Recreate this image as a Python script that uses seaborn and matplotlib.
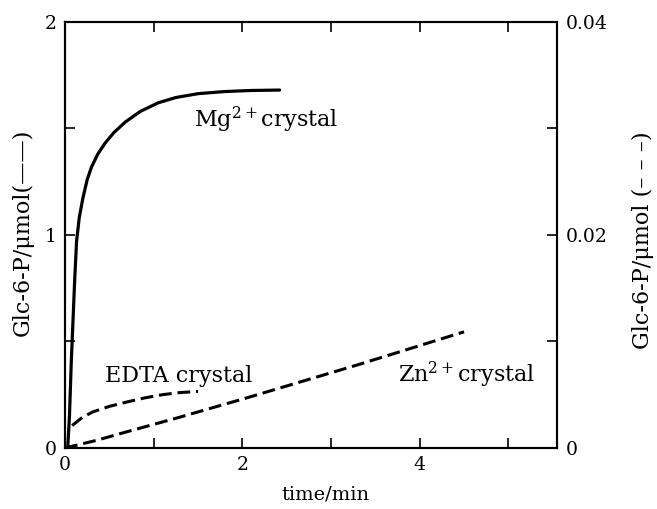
import numpy as np
import pandas as pd
import seaborn as sns
import matplotlib.pyplot as plt
from matplotlib.ticker import MultipleLocator

# Mg2+ crystal (left axis, umol)
mg_time = [0.03, 0.05, 0.07, 0.09, 0.11, 0.13, 0.16, 0.2, 0.25, 0.3, 0.37, 0.45,
           0.55, 0.68, 0.85, 1.05, 1.25, 1.5, 1.8, 2.1, 2.42]
mg_glc = [0.0, 0.15, 0.4, 0.6, 0.8, 0.97, 1.08, 1.17, 1.26, 1.32, 1.38, 1.43,
          1.48, 1.53, 1.58, 1.62, 1.645, 1.663, 1.673, 1.678, 1.68]

# EDTA crystal (right axis, umol)
edta_time = [0.08, 0.2, 0.32, 0.5, 0.69, 0.9, 1.1, 1.3, 1.5]
edta_glc = [0.0021, 0.0029, 0.0034, 0.0039, 0.0043, 0.0047, 0.0050, 0.0052, 0.0053]

# Zn2+ crystal (right axis, umol)
zn_time = [0.0, 0.35, 0.69, 1.3, 2.05, 3.3, 4.5]
zn_glc = [0.0, 0.0007, 0.0015, 0.0029, 0.0047, 0.0078, 0.0109]

sns.set_style("ticks")
plt.rcParams['font.family'] = ['DejaVu Serif']
plt.rcParams['mathtext.fontset'] = 'dejavuserif'
plt.rcParams['axes.edgecolor'] = 'black'
plt.rcParams['text.color'] = 'black'
plt.rcParams['axes.labelcolor'] = 'black'
plt.rcParams['xtick.color'] = 'black'
plt.rcParams['ytick.color'] = 'black'

fig = plt.figure(figsize=(6.57, 5.09), dpi=100)
ax = fig.add_axes([0.099, 0.120, 0.749, 0.837])
ax2 = ax.twinx()

mg = pd.DataFrame({'time': mg_time, 'glc': mg_glc})
edta = pd.DataFrame({'time': edta_time, 'glc': edta_glc})
zn = pd.DataFrame({'time': zn_time, 'glc': zn_glc})

dash = (0, (4.2, 1.9))
sns.lineplot(data=mg, x='time', y='glc', ax=ax, color='black', lw=2.3, sort=False)
sns.lineplot(data=edta, x='time', y='glc', ax=ax2, color='black', lw=2.2,
             linestyle=dash, sort=False)
sns.lineplot(data=zn, x='time', y='glc', ax=ax2, color='black', lw=2.2,
             linestyle=dash, sort=False)

ax.set_xlim(0, 5.55)
ax.set_ylim(0, 2)
ax2.set_ylim(0, 0.04)

ax.set_xticks([0, 2, 4], labels=['0', '2', '4'])
ax.xaxis.set_minor_locator(MultipleLocator(1))
ax.set_yticks([0, 1, 2], labels=['0', '1', '2'])
ax.yaxis.set_minor_locator(MultipleLocator(0.5))
ax2.set_yticks([0, 0.02, 0.04], labels=['0', '0.02', '0.04'])
ax2.yaxis.set_minor_locator(MultipleLocator(0.01))

for a in (ax, ax2):
    for s in a.spines.values():
        s.set_linewidth(1.5)
        s.set_visible(True)
    a.tick_params(which='both', direction='in', labelsize=13.5, width=1.2,
                  length=7, pad=6)
ax.tick_params(which='both', top=True, right=False)
ax2.tick_params(which='both', left=False, right=True)

ax.set_xlabel('time/min', fontsize=14)
ax.xaxis.set_label_coords(0.53, -0.088)
ax.set_ylabel('Glc-6-P/μmol(——)', fontsize=16)
ax.yaxis.set_label_coords(-0.064, 0.506)
ax2.set_ylabel('Glc-6-P/μmol (– – –)', fontsize=16)
ax2.yaxis.set_label_coords(1.152, 0.487)

ax.text(1.46, 1.507, r'Mg$^{2+}$crystal', fontsize=16)
ax.text(0.45, 0.31, 'EDTA crystal', fontsize=16)
ax.text(3.75, 0.31, r'Zn$^{2+}$crystal', fontsize=16)

fig.savefig('out.png', dpi=100)
